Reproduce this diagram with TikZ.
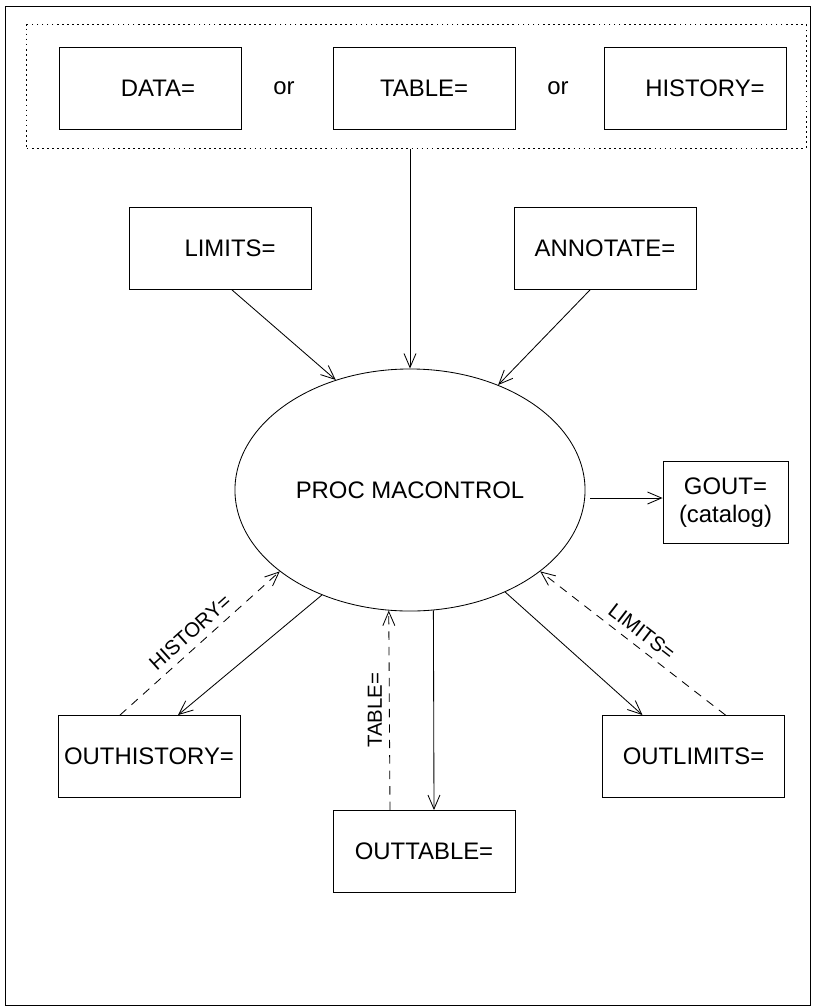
\documentclass[tikz,border=0pt]{standalone}
\usepackage{fontspec}
\setmainfont{Liberation Sans}
\usetikzlibrary{calc,shapes.geometric,arrows.meta}
\tikzset{
  box/.style={draw, line width=0.6pt, minimum width=4.55cm, minimum height=2.05cm, inner sep=0pt, font=\fontsize{17}{20}\selectfont},
  proc/.style={draw, ellipse, line width=0.6pt, minimum width=8.75cm, minimum height=6.05cm, inner sep=0pt, font=\fontsize{17}{20}\selectfont},
  grp/.style={draw, dash pattern=on 1.2pt off 2.4pt, line width=0.6pt, minimum width=19.48cm, minimum height=3.08cm, inner sep=0pt},
  flow/.style={draw, line width=0.6pt, -{Straight Barb[length=3.5mm,width=3mm]}},
  back/.style={flow, dash pattern=on 6pt off 5pt},
  labm/.style={font=\fontsize{14.5}{17}\selectfont, inner sep=5pt},
  txt/.style={font=\fontsize{17}{20}\selectfont}
}
\begin{document}
\begin{tikzpicture}[x=0.025cm, y=-0.025cm]
  \useasboundingbox (0,0) rectangle (812,1008);
  \draw[line width=0.6pt] (5,6) rectangle (810,1005);

  % input data sets
  \node[grp] (src) at (416.5,86.5) {};
  \node[box] (data) at (150,88) {\hspace*{0.4cm}DATA=};
  \node[txt] (or1) at (284,88) {or};
  \node[box] (tbl) at (424,88) {TABLE=};
  \node[txt] (or2) at (558,88) {or};
  \node[box] (hist) at (695,88) {\hspace*{0.5cm}HISTORY=};

  \node[box] (lim) at (220,248.5) {\hspace*{0.5cm}LIMITS=};
  \node[box] (ann) at (605,248.5) {ANNOTATE=};

  \node[proc] (proc) at (410,490) {PROC MACONTROL};
  \node[box, minimum width=3.125cm, align=center] (gout) at (725.5,502.5) {GOUT=\\(catalog)};

  % output data sets
  \node[box] (oh) at (149,756.5) {OUTHISTORY=};
  \node[box] (ot) at (424,851.5) {OUTTABLE=};
  \node[box] (ol) at (693.5,756.5) {OUTLIMITS=};

  \draw[flow] (src.south -| proc.north) -- (proc.north);
  \draw[flow] ($(lim.south)+(12,0)$) -- (proc.124.5);
  \draw[flow] ($(ann.south)+(-15,0)$) -- (proc.50.7);
  \coordinate (g) at (590,498);
  \draw[flow] (g) -- (g -| gout.west);

  \draw[flow] (proc.230) -- ($(oh.north)+(29,0)$);
  \draw[back] ($(oh.north)+(-29,0)$) -- node[labm, sloped, above] {HISTORY=} (proc.212.6);
  \draw[flow] (proc.281) -- ($(ot.north)+(10,0)$);
  \draw[back] ($(ot.north)+(-34,0)$) -- node[labm, rotate=90, anchor=south] {TABLE=} (proc.260.6);
  \draw[flow] (proc.313.6) -- ($(ol.north)+(-51,0)$);
  \draw[back] ($(ol.north)+(32,0)$) -- node[labm, sloped, above] {LIMITS=} (proc.328.8);
\end{tikzpicture}
\end{document}
